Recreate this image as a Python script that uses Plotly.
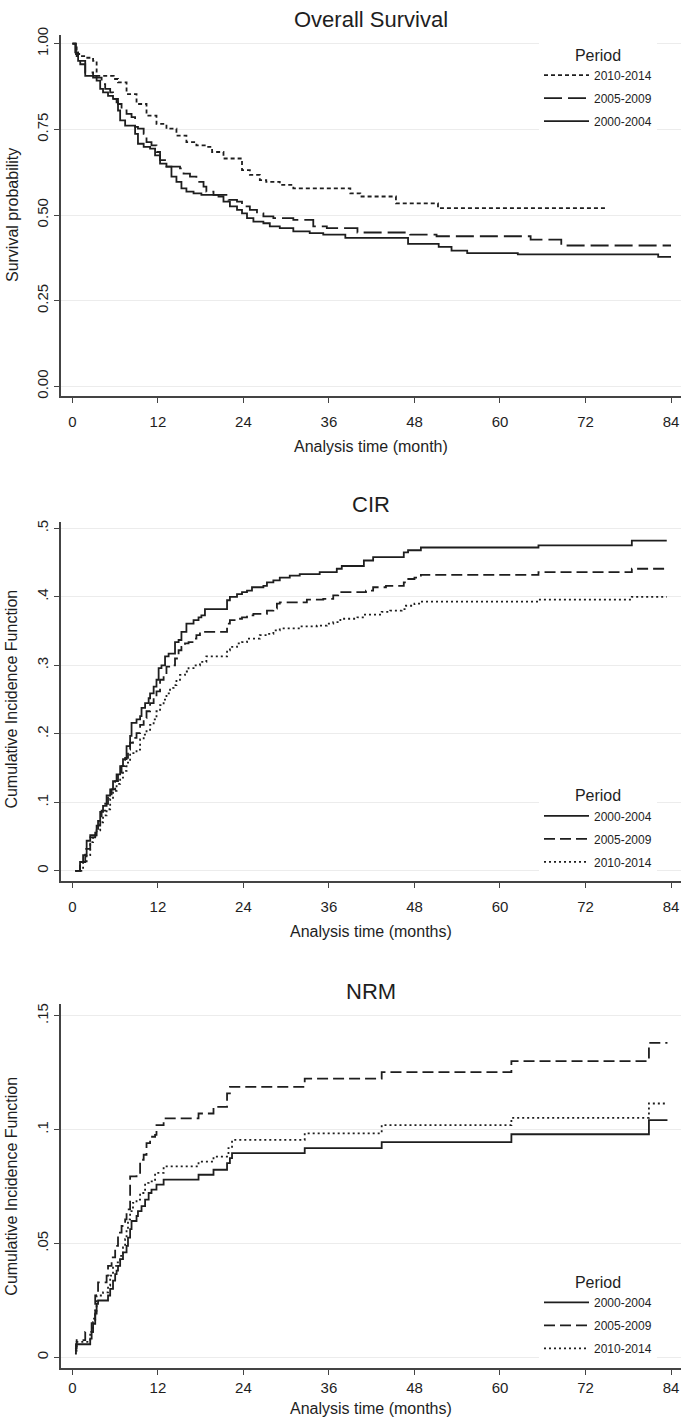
import plotly.graph_objects as go

# ---------------- data ----------------
periods = ["2000-2004", "2005-2009", "2010-2014"]

# Overall survival (Kaplan-Meier)
os_t_2000 = [0, 0.4, 0.8, 1.8, 3.4, 3.9, 4.3, 5.0, 5.7, 6.2, 6.4, 6.7, 7.4, 8.8, 9.2, 10.0, 10.9, 11.6,
             12.3, 13.2, 13.9, 14.6, 15.3, 16.0, 17.0, 18.1, 20.5, 21.2, 22.1, 23.1, 23.8, 24.5, 25.4,
             26.8, 27.7, 29.1, 31.0, 33.3, 35.2, 38.3, 47.1, 51.4, 53.2, 55.4, 62.5, 82.2, 84.0]
os_s_2000 = [1.0, 0.975, 0.950, 0.906, 0.892, 0.868, 0.858, 0.848, 0.839, 0.829, 0.805, 0.776, 0.761,
             0.737, 0.708, 0.699, 0.694, 0.674, 0.650, 0.641, 0.612, 0.597, 0.578, 0.568, 0.563, 0.559,
             0.554, 0.539, 0.525, 0.515, 0.505, 0.491, 0.481, 0.476, 0.467, 0.462, 0.452, 0.447, 0.443,
             0.433, 0.416, 0.407, 0.396, 0.389, 0.385, 0.378, 0.378]

os_t_2005 = [0, 0.5, 1.1, 1.8, 2.9, 4.1, 4.6, 5.3, 5.7, 6.4, 6.9, 7.6, 8.3, 8.8, 9.2, 10.0, 10.4, 11.1,
             11.8, 12.3, 13.2, 15.1, 15.6, 16.5, 17.4, 18.4, 18.8, 19.8, 21.9, 23.1, 23.8, 24.9, 25.9,
             26.8, 28.2, 31.0, 33.8, 35.7, 40.0, 47.4, 51.1, 64.3, 68.6, 84.0]
os_s_2005 = [1.0, 0.970, 0.940, 0.916, 0.901, 0.882, 0.868, 0.858, 0.839, 0.824, 0.805, 0.795, 0.786,
             0.757, 0.752, 0.737, 0.713, 0.703, 0.684, 0.660, 0.641, 0.636, 0.621, 0.612, 0.597, 0.583,
             0.568, 0.559, 0.544, 0.539, 0.525, 0.515, 0.505, 0.496, 0.491, 0.486, 0.467, 0.462, 0.449,
             0.443, 0.438, 0.428, 0.411, 0.411]

os_t_2010 = [0, 0.6, 1.8, 2.9, 3.4, 5.8, 6.4, 7.6, 9.0, 10.4, 11.8, 13.2, 14.6, 16.0, 17.4, 18.8, 19.6,
             21.2, 23.8, 24.9, 26.3, 27.2, 29.1, 31.0, 39.0, 40.4, 45.4, 51.3, 75.0]
os_s_2010 = [1.0, 0.964, 0.959, 0.950, 0.906, 0.897, 0.887, 0.853, 0.824, 0.790, 0.766, 0.752, 0.732,
             0.713, 0.703, 0.699, 0.684, 0.665, 0.631, 0.617, 0.602, 0.597, 0.588, 0.578, 0.563, 0.554,
             0.534, 0.520, 0.520]

# Cumulative incidence of relapse (CIR)
cir_t_2000 = [0.4, 1.07, 1.5, 2.0, 2.5, 3.4, 3.9, 4.3, 4.8, 5.3, 5.7, 6.2, 6.7, 7.1, 7.6, 8.1, 8.3, 9.0,
              9.5, 9.7, 10.2, 10.7, 10.9, 11.4, 11.8, 12.1, 12.5, 13.0, 13.5, 14.4, 14.9, 15.3, 16.0,
              17.0, 17.7, 18.1, 18.6, 21.7, 22.1, 23.1, 23.8, 24.5, 25.2, 26.8, 27.3, 28.2, 29.1, 30.5,
              31.9, 34.7, 37.1, 37.8, 40.9, 42.2, 46.5, 47.1, 48.9, 65.4, 78.5, 83.4]
cir_c_2000 = [0, .013, .023, .044, .052, .066, .086, .095, .110, .119, .131, .141, .153, .163, .182,
              .197, .216, .221, .226, .238, .245, .252, .259, .269, .279, .296, .300, .313, .317, .334,
              .337, .349, .361, .366, .370, .373, .382, .395, .400, .404, .407, .409, .414, .416, .421,
              .424, .428, .431, .433, .436, .441, .445, .453, .458, .465, .468, .472, .475, .482, .482]

cir_t_2005 = [0.4, 1.07, 1.8, 2.5, 3.2, 3.6, 4.1, 4.6, 5.0, 5.5, 6.0, 6.4, 6.9, 7.4, 7.8, 8.1, 8.5, 9.0,
              9.5, 10.0, 10.4, 10.9, 11.4, 11.8, 12.3, 12.8, 13.2, 13.9, 14.4, 14.9, 15.3, 15.8, 16.3,
              17.0, 17.4, 17.9, 21.7, 22.1, 23.1, 23.8, 24.5, 25.4, 27.3, 28.2, 28.7, 29.1, 32.9, 35.2,
              36.6, 37.3, 41.2, 42.2, 44.0, 46.5, 46.8, 48.0, 48.9, 65.4, 78.5, 83.4]
cir_c_2005 = [0, .013, .032, .049, .059, .073, .088, .098, .110, .119, .131, .143, .153, .165, .177,
              .187, .194, .201, .213, .223, .233, .245, .252, .262, .279, .286, .298, .300, .310, .322,
              .327, .332, .334, .339, .344, .349, .361, .366, .368, .370, .373, .375, .380, .383, .390,
              .392, .396, .397, .402, .407, .409, .414, .416, .421, .426, .428, .432, .436, .441, .441]

cir_t_2010 = [0.4, 1.5, 2.0, 2.5, 2.9, 3.4, 3.9, 4.3, 4.8, 5.3, 5.7, 6.2, 6.7, 7.1, 7.6, 8.1, 9.0, 9.5,
              10.0, 10.4, 10.9, 11.4, 11.8, 12.3, 12.8, 13.2, 13.7, 14.2, 14.6, 15.1, 15.8, 16.3, 17.0,
              17.9, 18.8, 21.7, 22.1, 23.1, 23.8, 24.5, 26.3, 27.3, 28.2, 29.1, 31.9, 34.3, 35.7, 36.6,
              37.6, 40.0, 40.9, 43.4, 44.6, 46.2, 46.8, 48.0, 48.9, 65.4, 78.5, 83.4]
cir_c_2010 = [0, .012, .023, .042, .052, .059, .071, .081, .090, .105, .117, .127, .136, .146, .158,
              .172, .177, .192, .199, .204, .213, .221, .233, .242, .250, .259, .267, .271, .279, .286,
              .291, .296, .300, .305, .313, .322, .327, .332, .334, .339, .344, .346, .351, .354, .357,
              .358, .361, .363, .368, .370, .374, .378, .380, .382, .387, .390, .393, .396, .400, .400]

# Non-relapse mortality (NRM)
nrm_t_2000 = [0.36, 0.5, 2.5, 2.7, 2.9, 3.2, 3.4, 3.6, 5.0, 5.3, 5.7, 6.0, 6.2, 6.4, 6.7, 7.1, 7.6, 7.8,
              8.1, 8.3, 9.0, 9.2, 9.7, 10.2, 10.7, 11.1, 11.8, 12.8, 17.7, 19.8, 21.7, 22.1, 22.4, 32.6,
              43.4, 61.6, 80.9, 83.5]
nrm_c_2000 = [.0017, .0058, .0083, .0112, .0148, .0192, .0235, .0250, .0272, .0301, .0337, .0366, .0381,
              .0402, .0432, .0461, .0490, .0526, .0563, .0599, .0621, .0642, .0664, .0693, .0722, .0737,
              .0759, .0781, .0802, .0824, .0853, .0875, .0897, .0919, .0945, .0980, .1042, .1042]

nrm_t_2005 = [0.36, 0.6, 1.8, 2.7, 3.2, 3.6, 4.8, 5.0, 5.5, 6.0, 6.4, 6.9, 7.4, 7.6, 8.1, 9.0, 9.5, 10.0,
              10.4, 10.9, 11.6, 11.8, 12.8, 17.7, 19.8, 21.7, 22.1, 32.6, 43.4, 61.6, 80.9, 83.5]
nrm_c_2005 = [.0039, .0076, .0112, .0170, .0272, .0330, .0359, .0402, .0439, .0490, .0548, .0577, .0606,
              .0650, .0795, .0802, .0868, .0890, .0941, .0969, .0977, .1020, .1050, .1071, .1100, .1159,
              .1188, .1224, .1253, .1301, .1381, .1381]

nrm_t_2010 = [0.36, 0.6, 2.5, 2.9, 3.2, 3.4, 4.3, 5.0, 5.3, 5.7, 6.2, 6.7, 7.1, 7.4, 7.6, 7.8, 8.1, 8.5,
              9.0, 9.5, 10.2, 10.7, 11.6, 12.8, 17.7, 19.8, 21.9, 22.4, 32.6, 43.4, 61.6, 80.9, 83.5]
nrm_c_2010 = [.0030, .0068, .0112, .0155, .0206, .0272, .0286, .0315, .0359, .0402, .0417, .0446, .0483,
              .0519, .0563, .0606, .0642, .0679, .0693, .0722, .0766, .0773, .0810, .0839, .0860, .0882,
              .0919, .0955, .0984, .1020, .1052, .1115, .1115]

x_ticks = [0, 12, 24, 36, 48, 60, 72, 84]
os_ticks = [0, 0.25, 0.5, 0.75, 1.0]
os_tick_text = ["0.00", "0.25", "0.50", "0.75", "1.00"]
cir_ticks = [0, 0.1, 0.2, 0.3, 0.4, 0.5]
cir_tick_text = ["0", ".1", ".2", ".3", ".4", ".5"]
nrm_ticks = [0, 0.05, 0.1, 0.15]
nrm_tick_text = ["0", ".05", ".1", ".15"]

# ---------------- layout helpers ----------------
W, H = 685, 1423
FONT = "Liberation Sans, Arial, sans-serif"
INK = "#1e1e1e"
AXIS = "#444444"
GRID = "#ececec"


def py(px):
    return 1 - px / H


x_dom = [60.5 / W, 681 / W]
x_mid = (x_dom[0] + x_dom[1]) / 2

fig = go.Figure()

dash_os = {"2000-2004": "solid", "2005-2009": "18px,6px", "2010-2014": "4px,3px"}
dash_ci = {"2000-2004": "solid", "2005-2009": "11px,5px", "2010-2014": "2px,3px"}


def add(t, v, name, dash, xa, ya, leg):
    fig.add_trace(go.Scatter(
        x=t, y=v, name=name, mode="lines", xaxis=xa, yaxis=ya, legend=leg,
        legendgroup=leg + name,
        line=dict(color=INK, width=1.8, dash=dash, shape="hv"),
        hoverinfo="skip"))


os_series = {"2000-2004": (os_t_2000, os_s_2000), "2005-2009": (os_t_2005, os_s_2005),
             "2010-2014": (os_t_2010, os_s_2010)}
cir_series = {"2000-2004": (cir_t_2000, cir_c_2000), "2005-2009": (cir_t_2005, cir_c_2005),
              "2010-2014": (cir_t_2010, cir_c_2010)}
nrm_series = {"2000-2004": (nrm_t_2000, nrm_c_2000), "2005-2009": (nrm_t_2005, nrm_c_2005),
              "2010-2014": (nrm_t_2010, nrm_c_2010)}

for p in reversed(periods):
    add(*os_series[p], p, dash_os[p], "x", "y", "legend")
for p in periods:
    add(*cir_series[p], p, dash_ci[p], "x2", "y2", "legend2")
for p in periods:
    add(*nrm_series[p], p, dash_ci[p], "x3", "y3", "legend3")


def xaxis(anchor, standoff):
    return dict(domain=x_dom, anchor=anchor, range=[-1.67, 85.4], tickvals=x_ticks,
                showgrid=False, zeroline=False, showline=True, linecolor=AXIS, linewidth=1.5,
                ticks="outside", ticklen=5, tickwidth=1.2, tickcolor=AXIS,
                tickfont=dict(family=FONT, size=15, color=INK), ticklabelstandoff=standoff,
                ticklabeloverflow="allow")


def yaxis(anchor, dom, rng, vals, text):
    return dict(domain=dom, anchor=anchor, range=rng, tickvals=vals, ticktext=text,
                showgrid=True, gridcolor=GRID, gridwidth=1.3, zeroline=False,
                showline=True, linecolor=AXIS, linewidth=1.5,
                ticks="outside", ticklen=5, tickwidth=1.2, tickcolor=AXIS, tickangle=-90,
                tickfont=dict(family=FONT, size=15, color=INK))


def legend(top_px):
    return dict(x=539 / W, xanchor="left", y=py(top_px), yanchor="top", bgcolor="white",
                borderwidth=0, font=dict(family=FONT, size=12, color=INK),
                title=dict(text="Period", font=dict(family=FONT, size=16, color=INK), side="top center"),
                itemwidth=45, tracegroupgap=4, traceorder="grouped", itemclick=False,
                itemdoubleclick=False)


dom1 = [py(391), py(27)]
dom2 = [py(879), py(518)]
dom3 = [py(1370), py(1003)]

ann = []


def text(x, y, s, size, angle=0):
    ann.append(dict(x=x, y=y, xref="paper", yref="paper", text=s, showarrow=False,
                    xanchor="center", yanchor="middle", textangle=angle,
                    font=dict(family=FONT, size=size, color=INK)))


text(x_mid, py(12), "Overall Survival", 22)
text(x_mid, py(500), "CIR", 22)
text(x_mid, py(990), "NRM", 22)
text(x_mid, py(442), "Analysis time (month)", 16)
text(x_mid, py(930), "Analysis time (months)", 16)
text(x_mid, py(1410), "Analysis time (months)", 16)
text(12 / W, py((36 + 381) / 2), "Survival probability", 16, -90)
text(12 / W, py((524 + 869) / 2), "Cumulative Incidence Function", 16, -90)
text(12 / W, py((1015 + 1359) / 2), "Cumulative Incidence Function", 16, -90)

fig.update_layout(
    width=W, height=H, margin=dict(l=0, r=0, t=0, b=0),
    paper_bgcolor="white", plot_bgcolor="white",
    font=dict(family=FONT, color=INK),
    xaxis=xaxis("y", 6), xaxis2=xaxis("y2", 6), xaxis3=xaxis("y3", 0),
    yaxis=yaxis("x", dom1, [-0.029, 1.026], os_ticks, os_tick_text),
    yaxis2=yaxis("x2", dom2, [-0.0145, 0.5087], cir_ticks, cir_tick_text),
    yaxis3=yaxis("x3", dom3, [-0.0048, 0.1552], nrm_ticks, nrm_tick_text),
    legend=legend(32), legend2=legend(778), legend3=legend(1268),
    annotations=ann, showlegend=True,
)

fig.write_html("out.html", config={"displayModeBar": False},
               post_script="document.body.style.margin='0px';document.body.style.overflow='hidden';")
